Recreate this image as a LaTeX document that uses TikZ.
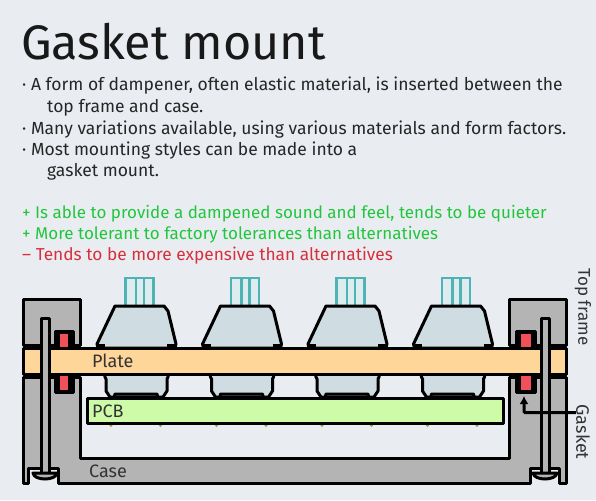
\documentclass[tikz,border=0pt]{standalone}
\usepackage{fontspec}
\setmainfont{Fira Sans}
\usetikzlibrary{arrows.meta}
\definecolor{pagebg}{HTML}{E9EDF2}
\definecolor{framegrey}{HTML}{B4B4B4}
\definecolor{platefill}{HTML}{FFD699}
\definecolor{pcbfill}{HTML}{CDFBA8}
\definecolor{gasketred}{HTML}{F0505A}
\definecolor{housingfill}{HTML}{CFDCE1}
\definecolor{stemteal}{HTML}{4FB3B3}
\definecolor{stemfill}{HTML}{DCECEF}
\definecolor{prosgreen}{HTML}{22C63C}
\definecolor{consred}{HTML}{D8303A}
\tikzset{
  part/.style={draw=black, line width=3pt, line join=round},
  metal/.style={part, fill=framegrey},
  stemline/.style={draw=stemteal, line width=2.6pt},
  bullet/.style={anchor=base west, inner sep=0pt, font=\fontsize{17.5}{17.5}\selectfont, text=black!85},
  proslabel/.style={bullet, font=\fontsize{17}{17}\selectfont, text=prosgreen},
  conslabel/.style={bullet, font=\fontsize{17.3}{17.3}\selectfont, text=consred},
  partlabel/.style={anchor=base west, inner sep=0pt, font=\fontsize{18}{18}\selectfont, text=black!80},
  sidelabel/.style={partlabel, font=\fontsize{17}{17}\selectfont, anchor=center, rotate=-90},
  gasketarrow/.style={-{Latex[length=8pt,width=9pt]}, line width=3pt, rounded corners=1pt}
}
\begin{document}
\begin{tikzpicture}[x=1pt, y=-1pt]
  \useasboundingbox[fill=pagebg] (0,0) rectangle (596,500);
  % text
  \node[anchor=base west, inner sep=0pt, font=\fontsize{48.5}{48.5}\selectfont, text=black!90] (title) at (21,60) {Gasket mount};
  \node[bullet] (lineone) at (22,91) {· A form of dampener, often elastic material, is inserted between the};
  \node[bullet] (linetwo) at (47,112) {top frame and case.};
  \node[bullet] (linethree) at (22,134) {· Many variations available, using various materials and form factors.};
  \node[bullet] (linefour) at (22,155) {· Most mounting styles can be made into a};
  \node[bullet] (linefive) at (47,176) {gasket mount.};
  \node[proslabel] (proone) at (22,218) {+ Is able to provide a dampened sound and feel, tends to be quieter};
  \node[proslabel] (protwo) at (22,239) {+ More tolerant to factory tolerances than alternatives};
  \node[conslabel] (conone) at (22,260) {– Tends to be more expensive than alternatives};
  % switches
  \foreach \sx in {0,105.5,211,316.5} {
    \begin{scope}[xshift=\sx pt]
      \fill[stemfill] (125,278) rectangle (154,306);
      \draw[stemline] (125.5,306) -- (125.5,278) -- (153.5,278) -- (153.5,306);
      \draw[stemline] (136,278) -- (136,306) (144,278) -- (144,306);
      \draw[part, fill=housingfill] (98,348) -- (97,344) -- (115,306) -- (164,306) -- (168,311) -- (176,344) -- (175,348) -- cycle;
      \draw[part] (97,345.5) -- (105,345.5) (167,345.5) -- (176,345.5);
      \draw[part, fill=housingfill] (104,372) -- (105,377) -- (106,379) -- (106,391) -- (110,397) -- (163,397) -- (167,391) -- (167,379) -- (168,377) -- (169,372) -- cycle;
      \draw[part] (114,398) -- (115,394) -- (157,394) -- (158,398);
      \fill[black!40!yellow] (111,425.5) circle (1.6) (160.5,425.5) circle (1.6);
    \end{scope}
  }
  % top frame
  \draw[metal] (23,345) -- (23,299) -- (80,299) -- (80,345) -- (73,345) -- (73,331) -- (55,331) -- (55,345) -- cycle;
  \draw[metal] (509,345) -- (509,299) -- (566,299) -- (566,345) -- (535,345) -- (535,331) -- (516,331) -- (516,345) -- cycle;
  % case
  \draw[metal] (23,483) -- (23,377) -- (55,377) -- (55,392) -- (73,392) -- (73,377) -- (80,377) -- (80,458) -- (509,458) -- (509,377) -- (516,377) -- (516,392) -- (535,392) -- (535,377) -- (566,377) -- (566,483) -- (559,483) -- (559,468) -- (530,468) -- (530,483) -- (58,483) -- (58,468) -- (28,468) -- (28,483) -- cycle;
  % plate
  \draw[part, fill=platefill] (23,348) rectangle (566,374);
  % gaskets
  \fill (55,331) rectangle (73,347) (55,375) rectangle (73,392);
  \fill (516,331) rectangle (535,347) (516,375) rectangle (535,392);
  \fill[gasketred] (60,333.5) rectangle (68,346.5);
  \fill[gasketred] (60,375.5) rectangle (68,390);
  \fill[gasketred] (521,333.5) rectangle (531,346.5);
  \fill[gasketred] (521,375.5) rectangle (531,390);
  % pcb
  \draw[part, fill=pcbfill] (87,398) rectangle (503,423);
  % screws
  \draw[metal] (41,473) -- (41,318) -- (49,318) -- (49,473);
  \draw[metal] (541,473) -- (541,318) -- (549,318) -- (549,473);
  \draw[metal] (33,473) -- (57,473) .. controls (56,481) and (34,481) .. (33,473) -- cycle;
  \draw[metal] (533,473) -- (557,473) .. controls (556,481) and (534,481) .. (533,473) -- cycle;
  % labels
  \node[partlabel] (platelabel) at (92,367) {Plate};
  \node[partlabel] (pcblabel) at (92,417) {PCB};
  \node[partlabel] (caselabel) at (89,477) {Case};
  \node[sidelabel] (framelabel) at (583,307) {Top frame};
  \node[sidelabel, font=\fontsize{18}{18}\selectfont] (gasketlabel) at (583,432) {Gasket};
  \coordinate (gasketend) at (524,396);
  \draw[gasketarrow] (gasketlabel.200) -| (gasketend);
\end{tikzpicture}
\end{document}
